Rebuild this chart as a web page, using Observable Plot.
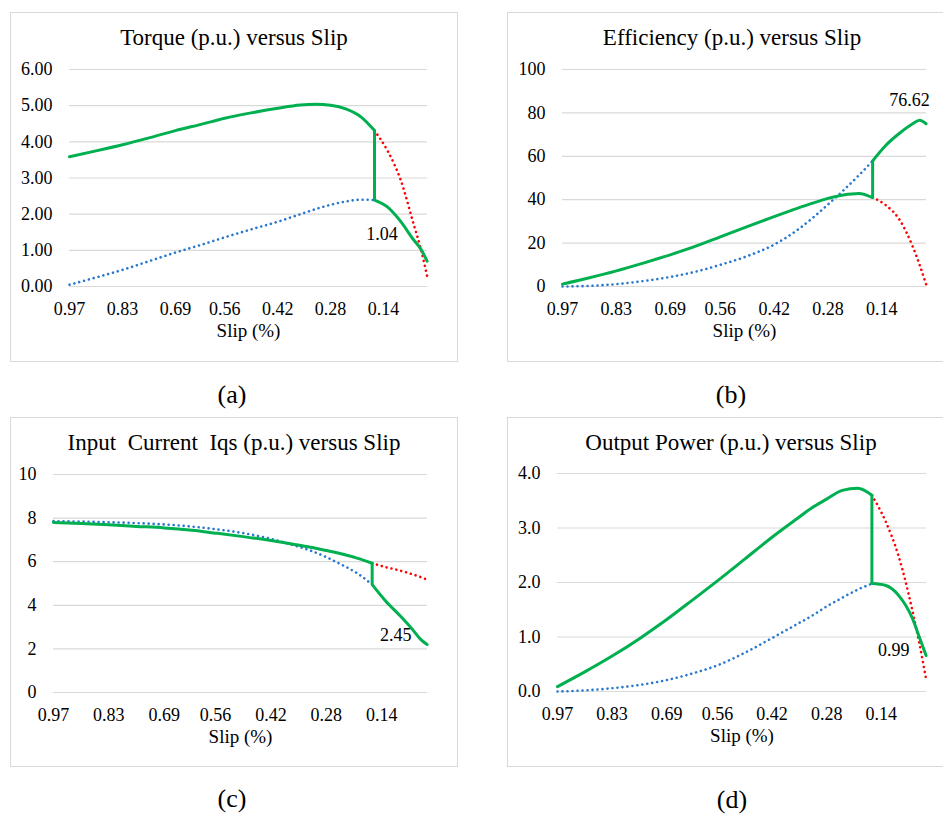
<!DOCTYPE html>
<html><head><meta charset="utf-8">
<script src="https://cdn.jsdelivr.net/npm/d3@7"></script>
<script src="https://cdn.jsdelivr.net/npm/@observablehq/plot@0.6"></script>
<style>
body{margin:0;background:#fff;font-family:"Liberation Serif","Times New Roman",serif;color:#000;}
#root{position:relative;width:943px;height:814px;overflow:hidden;background:#fff;}
.panel{position:absolute;outline:1px solid #d9d9d9;outline-offset:-1px;background:#fff;}
.panel svg{position:absolute;left:0;top:0;}
.title{position:absolute;left:0;top:0;text-align:center;font-size:23px;line-height:1;white-space:pre;transform:translate(-50%,-50%);}
.caption{position:absolute;font-size:26px;line-height:1;transform:translate(-50%,-50%);}
</style></head>
<body><div id="root"></div>
<script>
// Shared slip axis (values decrease left to right)
const slip = [0.97,0.90,0.83,0.76,0.69,0.62,0.56,0.49,0.42,0.36,0.32,0.28,0.24,0.20,0.164,0.13,0.095,0.06,0.042,0.025];
const switchSlip = 0.164;
const xTickLabels = ["0.97","0.83","0.69","0.56","0.42","0.28","0.14"];
const xLabel = "Slip (%)";

// (a) Torque
const torqueHigh = [3.59,3.75,3.92,4.11,4.31,4.49,4.65,4.80,4.93,5.02,5.04,5.01,4.91,4.69,4.31,3.76,2.95,1.70,1.05,0.28];
const torqueLow  = [0.05,0.25,0.46,0.70,0.94,1.16,1.36,1.58,1.79,2.00,2.14,2.26,2.35,2.40,2.39,2.20,1.80,1.28,1.04,0.70];
const torqueTicks = ["0.00","1.00","2.00","3.00","4.00","5.00","6.00"];

// (b) Efficiency
const effHigh = [1.1,4.0,7.2,10.8,14.6,18.8,22.9,27.6,32.2,36.0,38.4,40.6,42.2,42.9,41.0,37.5,31.0,18.5,10.0,1.0];
const effLow  = [0,0.3,1.1,2.5,4.4,7.0,10.0,14.0,19.3,26.0,31.6,37.8,44.3,51.2,57.9,65.0,70.5,75.0,76.62,75.0];
const effTicks = ["0","20","40","60","80","100"];

// (c) Input current Iqs
const curHigh = [7.80,7.75,7.69,7.62,7.55,7.44,7.31,7.15,6.97,6.79,6.66,6.51,6.35,6.15,5.93,5.75,5.60,5.41,5.30,5.18];
const curLow  = [7.86,7.84,7.81,7.77,7.71,7.61,7.49,7.31,7.05,6.74,6.51,6.21,5.85,5.45,4.95,4.20,3.55,2.85,2.45,2.20];
const curTicks = ["0","2","4","6","8","10"];

// (d) Output power
const powHigh = [0.09,0.36,0.65,0.97,1.32,1.70,2.03,2.43,2.83,3.15,3.36,3.53,3.69,3.73,3.60,3.14,2.47,1.48,0.87,0.23];
const powLow  = [0,0.02,0.06,0.12,0.21,0.34,0.48,0.71,0.98,1.22,1.38,1.56,1.72,1.87,1.98,1.95,1.76,1.34,0.99,0.66];
const powTicks = ["0.0","1.0","2.0","3.0","4.0"];

const titles = ["Torque (p.u.) versus Slip","Efficiency (p.u.) versus Slip","Input  Current  Iqs (p.u.) versus Slip","Output Power (p.u.) versus Slip"];
const captions = ["(a)","(b)","(c)","(d)"];

const GREEN = "#00B050", RED = "#FF0000", BLUE = "#2878CF", GRID = "#d9d9d9";

const panels = [
  {high: torqueHigh, low: torqueLow, ticks: torqueTicks, labelSlip: 0.042, labelKey: "lo", labelFmt: v => v.toFixed(2),
   box: [10, 12, 448, 350], m: [57, 31, 76, 59], titlePos: [224, 25], cap: [232, 395], lab: {dx: -23, dy: -15, anchor: "end"}},
  {high: effHigh, low: effLow, ticks: effTicks, labelSlip: 0.042, labelKey: "lo", labelFmt: v => v.toFixed(2),
   box: [507, 12, 445, 350], m: [57, 26, 76, 55], titlePos: [225, 25], cap: [731, 395], lab: {dx: -10, dy: -20, anchor: "middle"}},
  {high: curHigh, low: curLow, ticks: curTicks, labelSlip: 0.042, labelKey: "lo", labelFmt: v => v.toFixed(2),
   box: [10, 417, 448, 350], m: [57, 31, 75, 43], titlePos: [224, 25], cap: [232, 799], lab: {dx: -9, dy: -4, anchor: "end"}},
  {high: powHigh, low: powLow, ticks: powTicks, labelSlip: 0.042, labelKey: "lo", labelFmt: v => v.toFixed(2),
   box: [507, 417, 445, 350], m: [56, 26, 76, 50], titlePos: [224, 25], cap: [732, 800], lab: {dx: -10, dy: 13, anchor: "end"}}
];

const root = document.getElementById("root");
const xTickValues = xTickLabels.map(Number);

panels.forEach((p, k) => {
  const rows = slip.map((s, i) => ({s, hi: p.high[i], lo: p.low[i]}));
  const before = rows.filter(r => r.s >= switchSlip);
  const after = rows.filter(r => r.s <= switchSlip);
  const sw = rows.filter(r => r.s === switchSlip);
  const lab = rows.filter(r => r.s === p.labelSlip);
  const yVals = p.ticks.map(Number);
  const [left, top, w, h] = p.box;

  const dotted = color => ({stroke: color, strokeWidth: 2.6, strokeDasharray: "0.01,5", strokeLinecap: "round", curve: "monotone-x"});
  const solid = {stroke: GREEN, strokeWidth: 3, curve: "monotone-x", strokeLinejoin: "round"};

  const chart = Plot.plot({
    width: w, height: h,
    marginTop: p.m[0], marginRight: p.m[1], marginBottom: p.m[2], marginLeft: p.m[3],
    style: {fontFamily: '"Liberation Serif","Times New Roman",serif', fontSize: "18px", color: "#000", background: "transparent", overflow: "visible"},
    x: {type: "linear", domain: [0.97, 0.024]},
    y: {domain: [yVals[0], yVals[yVals.length - 1]]},
    marks: [
      Plot.gridY(yVals, {stroke: GRID, strokeOpacity: 1, strokeWidth: 1.2}),
      Plot.axisY(yVals, {tickSize: 0, tickPadding: 17, tickFormat: (d, i) => p.ticks[i], label: null, fontSize: 18}),
      Plot.axisX(xTickValues, {tickSize: 0, tickPadding: 16, tickFormat: (d, i) => xTickLabels[i], label: null, fontSize: 18}),
      Plot.line(before, {x: "s", y: "lo", ...dotted(BLUE)}),
      Plot.line(after, {x: "s", y: "hi", ...dotted(RED)}),
      Plot.line(before, {x: "s", y: "hi", ...solid}),
      Plot.line(after, {x: "s", y: "lo", ...solid}),
      Plot.ruleX(sw, {x: "s", y1: "lo", y2: "hi", stroke: GREEN, strokeWidth: 3}),
      Plot.text(lab, {x: "s", y: p.labelKey, text: d => p.labelFmt(d[p.labelKey]), dx: p.lab.dx, dy: p.lab.dy, textAnchor: p.lab.anchor, fontSize: 18, fill: "#000"}),
      Plot.text([xLabel], {frameAnchor: "bottom", dy: 50, fontSize: 19, fill: "#000"})
    ]
  });

  const div = document.createElement("div");
  div.className = "panel";
  Object.assign(div.style, {left: left + "px", top: top + "px", width: w + "px", height: h + "px"});
  div.appendChild(chart);
  const t = document.createElement("div");
  t.className = "title";
  t.textContent = titles[k];
  t.style.left = p.titlePos[0] + "px";
  t.style.top = p.titlePos[1] + "px";
  div.appendChild(t);
  root.appendChild(div);

  const c = document.createElement("div");
  c.className = "caption";
  c.textContent = captions[k];
  c.style.left = p.cap[0] + "px";
  c.style.top = p.cap[1] + "px";
  root.appendChild(c);
});
</script>
</body></html>
